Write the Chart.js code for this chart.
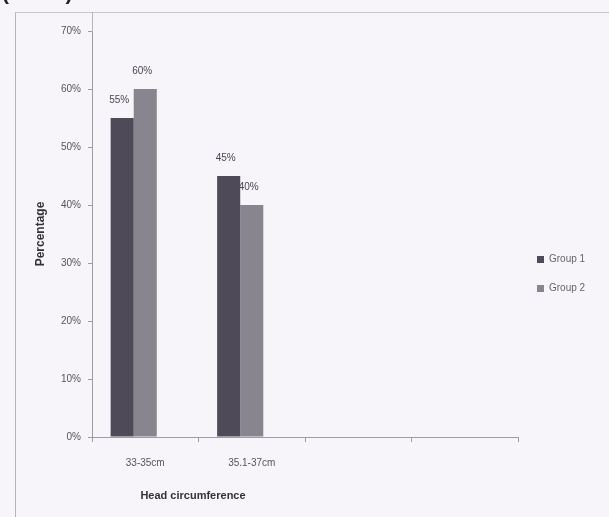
<!DOCTYPE html>
<html>
<head>
<meta charset="utf-8">
<script src="https://cdn.jsdelivr.net/npm/chart.js@4"></script>
<style>
  body { margin: 0; background: #f7f5f9; overflow: hidden; }
  #wrap { position: absolute; left: 0; top: 0; width: 609px; height: 517px; }
  #frame { position: absolute; left: 15px; top: 12px; width: 620px; height: 520px;
           border-left: 1px solid #b9b5bf; border-top: 1px solid #c9c5cf; }
  #axisTop { position: absolute; left: 92px; top: 12px; width: 1px; height: 20px; background: #b9b5bf; }
  #note { position: absolute; left: 2px; top: -19px; font: bold 21px "Liberation Sans", Arial, sans-serif; color: #222; }
</style>
</head>
<body>
<div id="wrap">
  <div id="note">(N= 20)</div>
  <div id="frame"></div>
  <div id="axisTop"></div>
  <canvas id="classificationChart" width="609" height="517"></canvas>
</div>
<script>
const categories = ["33-35cm", "35.1-37cm", "", ""];
const group1 = [55, 45, null, null];
const group2 = [60, 40, null, null];
const spacer = [null, null, null, null]; // empty third series, Excel left room for it
const yTicks = [0, 10, 20, 30, 40, 50, 60, 70];

const FONT = "'Liberation Sans', Arial, sans-serif";

// value labels above the bars
const barLabels = {
  id: "barLabels",
  afterDatasetsDraw(chart) {
    const ctx = chart.ctx;
    ctx.save();
    ctx.font = "10px " + FONT;
    ctx.fillStyle = "#4a4650";
    ctx.textAlign = "center";
    ctx.textBaseline = "middle";
    chart.data.datasets.forEach((ds, i) => {
      const meta = chart.getDatasetMeta(i);
      meta.data.forEach((bar, j) => {
        const v = ds.data[j];
        if (v === null) return;
        ctx.fillText(v + "%", bar.x - 3, bar.y - 18);
      });
    });
    ctx.restore();
  },
};

// x axis title sits left of centre in the original
const xTitle = {
  id: "xTitle",
  afterDraw(chart) {
    const ctx = chart.ctx;
    ctx.save();
    ctx.font = "bold 11px " + FONT;
    ctx.fillStyle = "#333";
    ctx.textAlign = "center";
    ctx.textBaseline = "middle";
    ctx.fillText("Head circumference", chart.chartArea.left + 101, 496);
    ctx.restore();
  },
};

// fixed legend width
const legendWidth = {
  id: "legendWidth",
  beforeInit(chart) {
    const fit = chart.legend.fit;
    chart.legend.fit = function () {
      fit.call(this);
      this.width = 91;
    };
  },
};

const chart = new Chart(document.getElementById("classificationChart"), {
  type: "bar",
  data: {
    labels: categories,
    datasets: [
      { label: "Group 1", data: group1, backgroundColor: "#4f4a58" },
      { label: "Group 2", data: group2, backgroundColor: "#88858f" },
      { label: "", data: spacer, backgroundColor: "rgba(0,0,0,0)" },
    ],
  },
  options: {
    responsive: false,
    animation: false,
    devicePixelRatio: 1,
    layout: { padding: { top: 31, right: 0, bottom: 0, left: 0 } },
    datasets: { bar: { categoryPercentage: 0.65, barPercentage: 1 } },
    scales: {
      x: {
        grid: { display: true, drawOnChartArea: false, drawTicks: true, tickLength: 5, color: "#a09ca6" },
        border: { display: true, color: "#a09ca6" },
        ticks: { font: { family: FONT, size: 10 }, color: "#555", padding: 15, maxRotation: 0 },
        afterFit(scale) { scale.height = 80; },
      },
      y: {
        min: 0,
        max: 70,
        afterBuildTicks(scale) { scale.ticks = yTicks.map((v) => ({ value: v })); },
        grid: { display: true, drawOnChartArea: false, drawTicks: true, tickLength: 4, color: "#a09ca6" },
        border: { display: true, color: "#a09ca6" },
        ticks: {
          font: { family: FONT, size: 10 },
          color: "#555",
          padding: 7,
          callback: function (value) { return value + "%"; },
        },
        title: {
          display: true,
          text: "Percentage",
          font: { family: FONT, size: 12, weight: "bold" },
          color: "#333",
          padding: { top: 33, bottom: 0 },
        },
        afterFit(scale) { scale.width = 92; },
      },
    },
    plugins: {
      tooltip: { enabled: false },
      legend: {
        position: "right",
        labels: {
          font: { family: FONT, size: 10 },
          color: "#666",
          boxWidth: 7,
          boxHeight: 7,
          padding: 19,
          filter: (item) => item.text !== "",
        },
      },
    },
  },
  plugins: [barLabels, xTitle, legendWidth],
});
</script>
</body>
</html>
